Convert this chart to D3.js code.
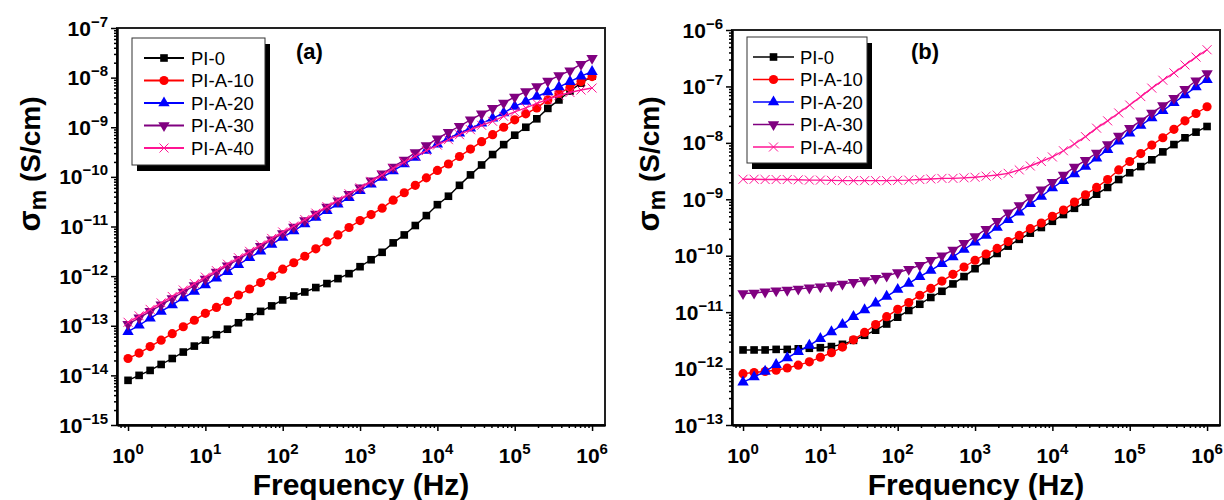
<!DOCTYPE html>
<html>
<head>
<meta charset="utf-8">
<script src="https://cdn.jsdelivr.net/npm/d3@7"></script>
<style>
  html, body { margin: 0; padding: 0; background: #fff; }
  svg { display: block; font-family: "Liberation Sans", Arial, sans-serif; }
</style>
</head>
<body>
<svg id="chart" width="1224" height="500"></svg>
<script>
// ---------------- DATA ----------------
// Frequency (Hz), 7 points per decade
const freq = [1, 1.39, 1.93, 2.68, 3.73, 5.18, 7.2, 10, 13.9, 19.3, 26.8, 37.3, 51.8, 72,
  100, 139, 193, 268, 373, 518, 720, 1000, 1390, 1930, 2680, 3730, 5180, 7200,
  10000, 13900, 19300, 26800, 37300, 51800, 72000, 100000, 139000, 193000, 268000, 373000, 518000, 720000, 1000000];

const seriesNames = ["PI-0", "PI-A-10", "PI-A-20", "PI-A-30", "PI-A-40"];
const seriesColors = ["#000000", "#ff0000", "#0000ff", "#800080", "#ff1493"];
const seriesSymbols = ["square", "circle", "triangleUp", "triangleDown", "cross"];

// Panel (a): log10 of sigma_m (S/cm)
const a_PI0 = [-14.10,-14.00,-13.90,-13.78,-13.66,-13.53,-13.41,-13.29,-13.18,-13.07,
  -12.94,-12.82,-12.71,-12.60,-12.48,-12.40,-12.32,-12.23,-12.15,-12.05,
  -11.95,-11.81,-11.67,-11.52,-11.33,-11.17,-10.98,-10.78,-10.56,-10.39,
  -10.17,-9.96,-9.76,-9.55,-9.35,-9.16,-9.00,-8.83,-8.62,-8.45,
  -8.27,-8.11,-7.97];
const a_PIA10 = [-13.66,-13.55,-13.42,-13.29,-13.16,-13.02,-12.89,-12.75,-12.63,-12.51,
  -12.38,-12.26,-12.13,-12.00,-11.86,-11.73,-11.60,-11.45,-11.31,-11.17,
  -11.02,-10.88,-10.76,-10.63,-10.47,-10.32,-10.17,-10.02,-9.87,-9.74,
  -9.59,-9.44,-9.29,-9.15,-9.00,-8.85,-8.73,-8.61,-8.45,-8.32,
  -8.20,-8.08,-7.98];
const a_PIA20 = [-13.12,-12.99,-12.85,-12.71,-12.58,-12.44,-12.31,-12.18,-12.04,-11.91,
  -11.77,-11.63,-11.50,-11.36,-11.22,-11.09,-10.95,-10.82,-10.68,-10.55,
  -10.42,-10.28,-10.15,-10.01,-9.88,-9.74,-9.61,-9.47,-9.34,-9.22,
  -9.12,-9.02,-8.92,-8.82,-8.71,-8.58,-8.48,-8.38,-8.29,-8.19,
  -8.08,-7.97,-7.88];
const a_PIA30 = [-12.97,-12.84,-12.71,-12.58,-12.45,-12.32,-12.19,-12.06,-11.92,-11.79,
  -11.66,-11.53,-11.40,-11.27,-11.14,-11.01,-10.88,-10.75,-10.61,-10.48,
  -10.35,-10.22,-10.08,-9.94,-9.80,-9.66,-9.51,-9.37,-9.23,-9.10,
  -8.98,-8.85,-8.73,-8.62,-8.51,-8.39,-8.28,-8.18,-8.07,-7.96,
  -7.86,-7.73,-7.61];
const a_PIA40 = [-12.93,-12.80,-12.67,-12.54,-12.41,-12.28,-12.15,-12.02,-11.89,-11.76,
  -11.63,-11.50,-11.37,-11.24,-11.11,-10.99,-10.86,-10.73,-10.60,-10.47,
  -10.34,-10.22,-10.09,-9.96,-9.83,-9.70,-9.58,-9.47,-9.36,-9.25,
  -9.15,-9.05,-8.96,-8.88,-8.78,-8.69,-8.61,-8.52,-8.44,-8.36,
  -8.30,-8.25,-8.21];

// Panel (b): log10 of sigma_m (S/cm)
const b_PI0 = [-11.67,-11.67,-11.67,-11.66,-11.66,-11.65,-11.64,-11.63,-11.61,-11.57,
  -11.50,-11.41,-11.32,-11.21,-11.09,-10.97,-10.86,-10.74,-10.63,-10.50,
  -10.37,-10.23,-10.09,-9.96,-9.83,-9.71,-9.60,-9.50,-9.39,-9.27,
  -9.16,-9.05,-8.91,-8.79,-8.65,-8.53,-8.42,-8.30,-8.16,-8.03,
  -7.91,-7.81,-7.71];
const b_PIA10 = [-12.09,-12.07,-12.05,-12.03,-11.99,-11.94,-11.88,-11.80,-11.72,-11.62,
  -11.49,-11.36,-11.22,-11.08,-10.95,-10.83,-10.70,-10.58,-10.45,-10.33,
  -10.20,-10.08,-9.97,-9.87,-9.75,-9.64,-9.52,-9.42,-9.30,-9.19,
  -9.05,-8.92,-8.79,-8.65,-8.48,-8.33,-8.19,-8.04,-7.91,-7.76,
  -7.61,-7.48,-7.36];
const b_PIA20 = [-12.24,-12.15,-12.05,-11.93,-11.81,-11.70,-11.59,-11.47,-11.35,-11.22,
  -11.08,-10.96,-10.84,-10.72,-10.60,-10.49,-10.37,-10.26,-10.14,-10.02,
  -9.89,-9.76,-9.64,-9.50,-9.36,-9.23,-9.08,-8.95,-8.80,-8.67,
  -8.55,-8.42,-8.27,-8.12,-7.97,-7.83,-7.69,-7.56,-7.43,-7.29,
  -7.15,-7.01,-6.88];
const b_PIA30 = [-10.67,-10.66,-10.64,-10.62,-10.61,-10.59,-10.57,-10.55,-10.53,-10.50,
  -10.47,-10.44,-10.40,-10.36,-10.30,-10.24,-10.17,-10.08,-10.00,-9.90,
  -9.78,-9.66,-9.53,-9.39,-9.24,-9.11,-8.97,-8.83,-8.70,-8.57,
  -8.43,-8.31,-8.18,-8.03,-7.88,-7.74,-7.61,-7.47,-7.34,-7.21,
  -7.05,-6.90,-6.77];
const b_PIA40 = [-8.645,-8.645,-8.65,-8.65,-8.65,-8.655,-8.66,-8.66,-8.665,-8.67,
  -8.67,-8.67,-8.67,-8.67,-8.665,-8.66,-8.65,-8.64,-8.63,-8.63,
  -8.62,-8.61,-8.59,-8.57,-8.54,-8.48,-8.41,-8.33,-8.25,-8.14,
  -8.02,-7.89,-7.74,-7.61,-7.47,-7.33,-7.18,-7.03,-6.89,-6.76,
  -6.62,-6.48,-6.35];

// Axis tick labels
const xTickExps = [0, 1, 2, 3, 4, 5, 6];
const yTickExpsA = [-15, -14, -13, -12, -11, -10, -9, -8, -7];
const yTickExpsB = [-13, -12, -11, -10, -9, -8, -7, -6];
const xTitle = "Frequency (Hz)";
const panelLabels = ["(a)", "(b)"];

// ---------------- DRAWING ----------------
const svg = d3.select("#chart");
const FONT = "'Liberation Sans', Arial, sans-serif";

const panels = [
  { series: [a_PI0, a_PIA10, a_PIA20, a_PIA30, a_PIA40], yExps: yTickExpsA,
    left: 117, right: 605, top: 28, bottom: 425, label: panelLabels[0],
    labelX: 296, ytitleX: 40,
    legend: { x: 132, y: 38, w: 133, h: 127, rowY: 58, rowH: 22.5, lx0: 144, lx1: 184, tx: 191, lw: 2 } },
  { series: [b_PI0, b_PIA10, b_PIA20, b_PIA30, b_PIA40], yExps: yTickExpsB,
    left: 732, right: 1220, top: 30, bottom: 425, label: panelLabels[1],
    labelX: 911, ytitleX: 659,
    legend: { x: 747, y: 37, w: 120, h: 126, rowY: 57, rowH: 22.5, lx0: 753, lx1: 794, tx: 800, lw: 1.5 } }
];

function symbolPath(type) {
  switch (type) {
    case "square": return d3.symbol(d3.symbolSquare, 58)();
    case "circle": return d3.symbol(d3.symbolCircle, 66)();
    case "triangleUp": return d3.symbol(d3.symbolTriangle, 56)();
    case "triangleDown": return d3.symbol(d3.symbolTriangle, 56)();
    case "cross": return "M-4.5,-4.5L4.5,4.5M-4.5,4.5L4.5,-4.5";
  }
}
function drawSymbol(g, type, color, x, y) {
  const p = g.append("path")
    .attr("d", symbolPath(type))
    .attr("transform", `translate(${x},${y})` + (type === "triangleDown" ? " rotate(180)" : ""));
  if (type === "cross") {
    p.attr("fill", "none").attr("stroke", color).attr("stroke-width", 1);
  } else {
    p.attr("fill", color).attr("stroke", "none");
  }
}

panels.forEach(P => {
  const yMinExp = d3.min(P.yExps), yMaxExp = d3.max(P.yExps);
  const x = d3.scaleLog().domain([0.72, 1.47e6]).range([P.left, P.right]);
  const y = d3.scaleLog().domain([Math.pow(10, yMinExp), Math.pow(10, yMaxExp)]).range([P.bottom, P.top]);

  const g = svg.append("g");

  // frame
  g.append("rect").attr("x", P.left).attr("y", P.top)
    .attr("width", P.right - P.left).attr("height", P.bottom - P.top)
    .attr("fill", "none").attr("stroke", "#222").attr("stroke-width", 2);

  // tick values
  const xMajor = xTickExps.map(e => Math.pow(10, e));
  const xMinor = [];
  for (let e = -1; e <= 6; e++) for (let m = 2; m <= 9; m++) {
    const v = m * Math.pow(10, e);
    if (v > x.domain()[0] && v < x.domain()[1]) xMinor.push(v);
  }
  const yMajor = P.yExps.map(e => Math.pow(10, e));
  const yMinor = [];
  for (let e = yMinExp; e < yMaxExp; e++) for (let m = 2; m <= 9; m++) yMinor.push(m * Math.pow(10, e));

  // axes (ticks outward)
  const axStyle = sel => {
    sel.select(".domain").attr("stroke", "#000").attr("stroke-width", 2);
    sel.selectAll(".tick line").attr("stroke", "#000").attr("stroke-width", 1.5);
    sel.selectAll(".tick text").remove();
  };
  g.append("g").attr("transform", `translate(0,${P.bottom})`)
    .call(d3.axisBottom(x).tickValues(xMinor).tickSize(3).tickSizeOuter(0).tickFormat(""))
    .call(axStyle);
  g.append("g").attr("transform", `translate(0,${P.bottom})`)
    .call(d3.axisBottom(x).tickValues(xMajor).tickSize(6).tickSizeOuter(0).tickFormat(""))
    .call(axStyle);
  g.append("g").attr("transform", `translate(${P.left},0)`)
    .call(d3.axisLeft(y).tickValues(yMinor).tickSize(3).tickSizeOuter(0).tickFormat(""))
    .call(axStyle);
  g.append("g").attr("transform", `translate(${P.left},0)`)
    .call(d3.axisLeft(y).tickValues(yMajor).tickSize(6).tickSizeOuter(0).tickFormat(""))
    .call(axStyle);

  // x tick labels
  xTickExps.forEach(e => {
    const t = g.append("text").attr("x", x(Math.pow(10, e))).attr("y", P.bottom + 38)
      .attr("text-anchor", "middle").attr("font-family", FONT).attr("font-weight", "bold").attr("fill", "#000");
    t.append("tspan").attr("font-size", 21).text("10");
    t.append("tspan").attr("font-size", 15).attr("dy", -9).text(String(e));
  });
  // y tick labels
  P.yExps.forEach(e => {
    const t = g.append("text").attr("x", P.left - 9).attr("y", y(Math.pow(10, e)) + 7.5)
      .attr("text-anchor", "end").attr("font-family", FONT).attr("font-weight", "bold").attr("fill", "#000");
    t.append("tspan").attr("font-size", 21).text("10");
    t.append("tspan").attr("font-size", 15).attr("dy", -9).text("\u2212" + Math.abs(e));
  });

  // axis titles
  g.append("text").attr("x", (P.left + P.right) / 2).attr("y", 495)
    .attr("text-anchor", "middle").attr("font-family", FONT).attr("font-weight", "bold")
    .attr("font-size", 30).attr("fill", "#000").text(xTitle);
  const yt = g.append("text").attr("transform", `translate(${P.ytitleX},164) rotate(-90)`)
    .attr("text-anchor", "middle").attr("font-family", FONT).attr("font-weight", "bold").attr("fill", "#000");
  yt.append("tspan").attr("font-size", 31).text("\u03c3");
  yt.append("tspan").attr("font-size", 23).attr("dy", 6).text("m");
  yt.append("tspan").attr("font-size", 28).attr("dy", -6).text(" (S/cm)");

  // series
  const line = d3.line().x((d, i) => x(freq[i])).y(d => y(Math.pow(10, d)));
  P.series.forEach((s, si) => {
    const sg = g.append("g");
    sg.append("path").datum(s).attr("d", line).attr("fill", "none")
      .attr("stroke", seriesColors[si]).attr("stroke-width", 1.4);
    s.forEach((v, i) => drawSymbol(sg, seriesSymbols[si], seriesColors[si], x(freq[i]), y(Math.pow(10, v))));
  });

  // panel label
  g.append("text").attr("x", P.labelX).attr("y", 59).attr("font-family", FONT)
    .attr("font-weight", "bold").attr("font-size", 22).attr("fill", "#000").text(P.label);

  // legend
  const L = P.legend;
  g.append("rect").attr("x", L.x + 5).attr("y", L.y + 6).attr("width", L.w).attr("height", L.h).attr("fill", "#000");
  g.append("rect").attr("x", L.x).attr("y", L.y).attr("width", L.w).attr("height", L.h)
    .attr("fill", "#fff").attr("stroke", "#333").attr("stroke-width", 1);
  seriesNames.forEach((name, si) => {
    const ry = L.rowY + si * L.rowH;
    g.append("line").attr("x1", L.lx0).attr("x2", L.lx1).attr("y1", ry).attr("y2", ry)
      .attr("stroke", seriesColors[si]).attr("stroke-width", L.lw);
    drawSymbol(g, seriesSymbols[si], seriesColors[si], (L.lx0 + L.lx1) / 2, ry);
    g.append("text").attr("x", L.tx).attr("y", ry + 6.5).attr("font-family", FONT)
      .attr("font-size", 18.5).attr("fill", "#000").text(name);
  });
});
</script>
</body>
</html>
